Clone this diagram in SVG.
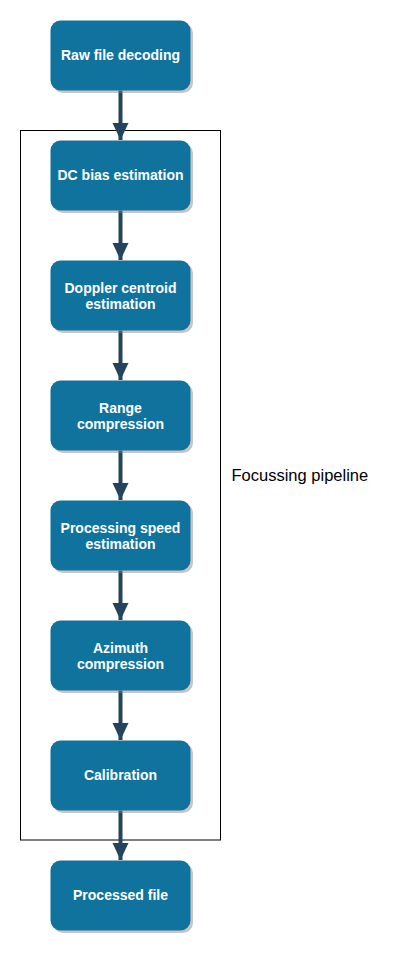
<svg xmlns="http://www.w3.org/2000/svg" width="401" height="953" viewBox="0 0 401 953">
<style>
.shadow{fill:#808080;opacity:0.45}
.node{fill:#10739E}
.lbl{font-family:"Liberation Sans",Arial,sans-serif;font-size:14px;font-weight:bold;fill:#FFFFFF;text-anchor:middle}
.edge{stroke:#23445D;stroke-width:4;fill:none}
.group{fill:none;stroke:#000000;stroke-width:1}
.note{font-family:"Liberation Sans",Arial,sans-serif;font-size:16.5px;fill:#000000}
</style>
<defs>
<marker id="arr" markerUnits="userSpaceOnUse" markerWidth="18" markerHeight="18" refX="17" refY="8" orient="auto" viewBox="0 0 18 16">
<path d="M0,0 L17,8 L0,16 Z" fill="#23445D"/>
</marker>
</defs>
<rect width="401" height="953" fill="#FFFFFF"/>
<g id="pipeline-group">
<rect class="group" x="20.5" y="130.5" width="200" height="709.5"/>
<text class="note" x="231.5" y="480.5">Focussing pipeline</text>
</g>
<g id="connectors">
<path class="edge" d="M120.5,90.5 L120.5,140" marker-end="url(#arr)"/>
<path class="edge" d="M120.5,210.5 L120.5,260" marker-end="url(#arr)"/>
<path class="edge" d="M120.5,330.5 L120.5,380" marker-end="url(#arr)"/>
<path class="edge" d="M120.5,450.5 L120.5,500" marker-end="url(#arr)"/>
<path class="edge" d="M120.5,570.5 L120.5,620" marker-end="url(#arr)"/>
<path class="edge" d="M120.5,690.5 L120.5,740" marker-end="url(#arr)"/>
<path class="edge" d="M120.5,810.5 L120.5,860" marker-end="url(#arr)"/>
</g>
<g id="raw-file-decoding">
<rect class="shadow" x="53" y="23" width="140" height="70" rx="10"/>
<rect class="node" x="50.5" y="20.5" width="140" height="70" rx="10"/>
<text class="lbl" x="120.5" y="60">Raw file decoding</text>
</g>
<g id="dc-bias-estimation">
<rect class="shadow" x="53" y="143" width="140" height="70" rx="10"/>
<rect class="node" x="50.5" y="140.5" width="140" height="70" rx="10"/>
<text class="lbl" x="120.5" y="180">DC bias estimation</text>
</g>
<g id="doppler-centroid-estimation">
<rect class="shadow" x="53" y="263" width="140" height="70" rx="10"/>
<rect class="node" x="50.5" y="260.5" width="140" height="70" rx="10"/>
<text class="lbl" x="120.5" y="292.5">Doppler centroid</text>
<text class="lbl" x="120.5" y="309.3">estimation</text>
</g>
<g id="range-compression">
<rect class="shadow" x="53" y="383" width="140" height="70" rx="10"/>
<rect class="node" x="50.5" y="380.5" width="140" height="70" rx="10"/>
<text class="lbl" x="120.5" y="412.5">Range</text>
<text class="lbl" x="120.5" y="429.3">compression</text>
</g>
<g id="processing-speed-estimation">
<rect class="shadow" x="53" y="503" width="140" height="70" rx="10"/>
<rect class="node" x="50.5" y="500.5" width="140" height="70" rx="10"/>
<text class="lbl" x="120.5" y="532.5">Processing speed</text>
<text class="lbl" x="120.5" y="549.3">estimation</text>
</g>
<g id="azimuth-compression">
<rect class="shadow" x="53" y="623" width="140" height="70" rx="10"/>
<rect class="node" x="50.5" y="620.5" width="140" height="70" rx="10"/>
<text class="lbl" x="120.5" y="652.5">Azimuth</text>
<text class="lbl" x="120.5" y="669.3">compression</text>
</g>
<g id="calibration">
<rect class="shadow" x="53" y="743" width="140" height="70" rx="10"/>
<rect class="node" x="50.5" y="740.5" width="140" height="70" rx="10"/>
<text class="lbl" x="120.5" y="780">Calibration</text>
</g>
<g id="processed-file">
<rect class="shadow" x="53" y="863" width="140" height="70" rx="10"/>
<rect class="node" x="50.5" y="860.5" width="140" height="70" rx="10"/>
<text class="lbl" x="120.5" y="900">Processed file</text>
</g>
</svg>
